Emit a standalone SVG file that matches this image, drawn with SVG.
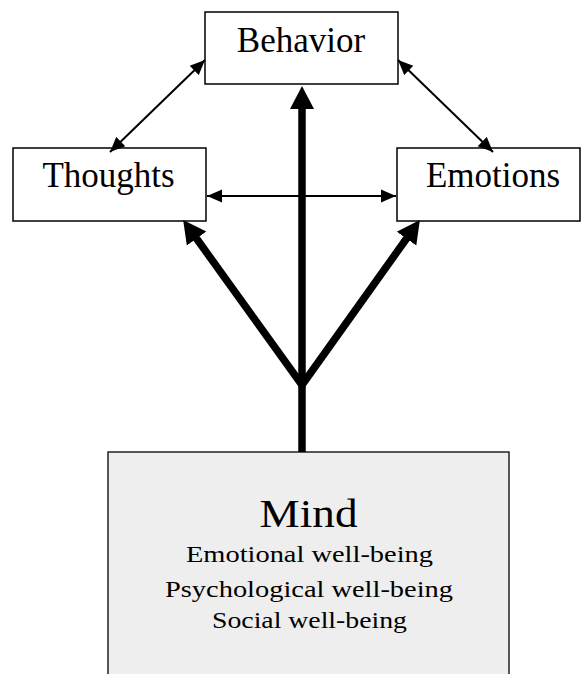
<svg xmlns="http://www.w3.org/2000/svg" width="581" height="674" viewBox="0 0 581 674">
  <style>
    .box { fill: #ffffff; stroke: #000000; stroke-width: 1.5; }
    .mind { fill: #eeeeee; stroke: #222222; stroke-width: 1.5; }
    .lbl { font-family: "Liberation Serif", "Times New Roman", serif; fill: #000000; text-anchor: middle; }
    .thin { stroke: #000000; stroke-width: 2; fill: none; }
    .thick { stroke: #000000; stroke-width: 7.5; fill: none; }
  </style>
  <defs>
    <marker id="thinHead" markerUnits="userSpaceOnUse" markerWidth="16" markerHeight="14" refX="15" refY="7" orient="auto-start-reverse" viewBox="0 0 16 14">
      <path d="M0,0.5 L15,7 L0,13.5 z" fill="#000000"/>
    </marker>
    <marker id="thickHead" markerUnits="userSpaceOnUse" markerWidth="24" markerHeight="26" refX="1" refY="12.5" orient="auto" viewBox="0 0 24 25">
      <path d="M0,0.5 L23,12.5 L0,24.5 z" fill="#000000"/>
    </marker>
  </defs>

  <g id="node-behavior">
    <rect class="box" x="205" y="12" width="193" height="72"/>
    <text class="lbl" x="301" y="52" font-size="35">Behavior</text>
  </g>
  <g id="node-thoughts">
    <rect class="box" x="13" y="148" width="193" height="73"/>
    <text class="lbl" x="108.5" y="187" font-size="35">Thoughts</text>
  </g>
  <g id="node-emotions">
    <rect class="box" x="397" y="148" width="183" height="73"/>
    <text class="lbl" x="493" y="187" font-size="35">Emotions</text>
  </g>
  <g id="node-mind">
    <rect class="mind" x="108" y="452" width="401" height="240"/>
    <text class="lbl" x="308.5" y="527" font-size="41" textLength="98" lengthAdjust="spacingAndGlyphs">Mind</text>
    <text class="lbl" x="309.5" y="562" font-size="23" textLength="247" lengthAdjust="spacingAndGlyphs">Emotional well-being</text>
    <text class="lbl" x="309" y="597" font-size="23" textLength="288" lengthAdjust="spacingAndGlyphs">Psychological well-being</text>
    <text class="lbl" x="309.5" y="628" font-size="23" textLength="195" lengthAdjust="spacingAndGlyphs">Social well-being</text>
  </g>

  <g id="connectors">
    <line class="thin" x1="110" y1="152" x2="205" y2="60" marker-start="url(#thinHead)" marker-end="url(#thinHead)"/>
    <line class="thin" x1="398" y1="60" x2="493" y2="152" marker-start="url(#thinHead)" marker-end="url(#thinHead)"/>
    <line class="thin" x1="207" y1="196" x2="396" y2="196" marker-start="url(#thinHead)" marker-end="url(#thinHead)"/>
    <line class="thick" x1="302" y1="452" x2="302" y2="108" stroke-width="8" marker-end="url(#thickHead)"/>
    <line class="thick" x1="302" y1="385" x2="196" y2="237.8" marker-end="url(#thickHead)"/>
    <line class="thick" x1="302" y1="385" x2="407.1" y2="237.8" marker-end="url(#thickHead)"/>
  </g>
</svg>
